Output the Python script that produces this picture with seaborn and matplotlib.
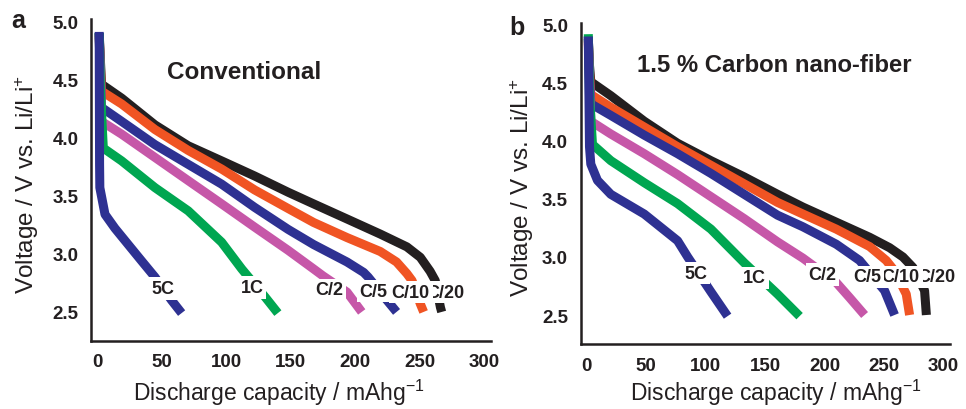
import numpy as np
import pandas as pd
import matplotlib
matplotlib.use("Agg")
import matplotlib.pyplot as plt
import seaborn as sns

sns.set_style("white")
plt.rcParams["font.family"] = ["Liberation Sans", "DejaVu Sans"]
plt.rcParams["mathtext.default"] = "regular"

rates = ["C/20", "C/10", "C/5", "C/2", "1C", "5C"]
colors = ["#231f20", "#f05423", "#2e3192", "#c657a8", "#00a651", "#2e3192"]

# ---- Panel a: Conventional ----
a_cap_C20 = [1.5, 2.5, 3.3, 18.9, 44.7, 70.5, 96.4, 122, 148, 167.7, 193.6, 219.4, 240, 250.4, 258, 262, 266, 267]
a_volt_C20 = [4.90, 4.65, 4.46, 4.34, 4.11, 3.93, 3.80, 3.67, 3.53, 3.43, 3.30, 3.17, 3.06, 2.97, 2.85, 2.77, 2.54, 2.50]
a_cap_C10 = [1.5, 2.5, 3.3, 18.9, 44.7, 70.5, 96.4, 122, 148, 167.7, 193.6, 219.4, 232, 240, 244, 250.4, 253]
a_volt_C10 = [4.88, 4.60, 4.40, 4.29, 4.07, 3.89, 3.73, 3.55, 3.39, 3.27, 3.14, 3.02, 2.93, 2.83, 2.77, 2.57, 2.50]
a_cap_C5 = [1.5, 2.5, 3.3, 18.9, 44.7, 70.5, 96.4, 122, 148, 167.7, 193.6, 206.5, 210, 224.6, 232]
a_volt_C5 = [4.90, 4.55, 4.26, 4.14, 3.94, 3.77, 3.60, 3.40, 3.21, 3.08, 2.93, 2.84, 2.80, 2.60, 2.50]
a_cap_C2 = [1.5, 2.5, 3.3, 18.9, 44.7, 70.5, 96.4, 122, 148, 167.7, 175, 193.6, 205]
a_volt_C2 = [4.86, 4.50, 4.14, 4.03, 3.83, 3.63, 3.43, 3.23, 3.03, 2.87, 2.81, 2.67, 2.50]
a_cap_1C = [1.5, 2.5, 4.7, 18.9, 44.7, 70.5, 96.4, 112, 130, 140]
a_volt_1C = [4.90, 4.40, 3.91, 3.80, 3.57, 3.37, 3.10, 2.87, 2.63, 2.49]
a_cap_5C = [1.5, 1.8, 2.0, 6.0, 13.7, 24, 34.3, 44.7, 57.6, 65.4]
a_volt_5C = [4.91, 3.77, 3.57, 3.34, 3.22, 3.08, 2.94, 2.80, 2.60, 2.49]

# ---- Panel b: 1.5 % Carbon nano-fiber ----
b_cap_C20 = [1.5, 2.5, 3.6, 20.4, 48.5, 76.5, 104.5, 132.5, 160.5, 181.8, 209.8, 237.8, 254.6, 265.8, 274.2, 284, 285.5]
b_volt_C20 = [4.88, 4.65, 4.51, 4.39, 4.17, 3.98, 3.83, 3.69, 3.54, 3.43, 3.30, 3.17, 3.08, 3.00, 2.91, 2.71, 2.50]
b_cap_C10 = [1.5, 2.5, 3.6, 20.4, 48.5, 76.5, 104.5, 132.5, 160.5, 181.8, 209.8, 237.8, 251.8, 258.8, 268.6, 271.4]
b_volt_C10 = [4.86, 4.60, 4.40, 4.29, 4.12, 3.95, 3.79, 3.63, 3.47, 3.37, 3.24, 3.09, 2.97, 2.88, 2.68, 2.50]
b_cap_C5 = [1.5, 2.5, 3.6, 20.4, 48.5, 76.5, 104.5, 132.5, 160.5, 181.8, 209.8, 229.4, 250.4, 258.8]
b_volt_C5 = [4.90, 4.55, 4.32, 4.22, 4.05, 3.89, 3.72, 3.54, 3.36, 3.26, 3.11, 2.97, 2.71, 2.50]
b_cap_C2 = [1.5, 2.5, 3.6, 20.4, 48.5, 76.5, 104.5, 132.5, 160.5, 181.8, 209.8, 221, 233.6]
b_volt_C2 = [4.84, 4.50, 4.17, 4.06, 3.89, 3.71, 3.52, 3.33, 3.13, 2.99, 2.78, 2.65, 2.50]
b_cap_1C = [1.5, 2.5, 5.0, 20.4, 48.5, 76.5, 104.5, 132.5, 160.5, 179]
b_volt_1C = [4.92, 4.40, 3.97, 3.83, 3.64, 3.46, 3.24, 2.95, 2.68, 2.49]
b_cap_5C = [1.5, 2.5, 3.6, 9.2, 20.4, 48.5, 76.5, 85, 104.5, 118.5]
b_volt_5C = [4.90, 3.95, 3.80, 3.66, 3.54, 3.37, 3.14, 3.00, 2.70, 2.49]

# label positions (capacity, voltage)
a_label_x = [270, 243, 214, 180, 120, 51]
a_label_y = [2.67, 2.67, 2.68, 2.69, 2.71, 2.70]
b_label_x = [294, 264, 236, 198, 141, 91.6]
b_label_y = [2.83, 2.83, 2.83, 2.85, 2.82, 2.86]


def make_df(caps, volts):
    frames = []
    for r, c, v in zip(rates, caps, volts):
        frames.append(pd.DataFrame({"cap": c, "volt": v, "rate": r}))
    return pd.concat(frames, ignore_index=True)


df_a = make_df([a_cap_C20, a_cap_C10, a_cap_C5, a_cap_C2, a_cap_1C, a_cap_5C],
               [a_volt_C20, a_volt_C10, a_volt_C5, a_volt_C2, a_volt_1C, a_volt_5C])
df_b = make_df([b_cap_C20, b_cap_C10, b_cap_C5, b_cap_C2, b_cap_1C, b_cap_5C],
               [b_volt_C20, b_volt_C10, b_volt_C5, b_volt_C2, b_volt_1C, b_volt_5C])

fig = plt.figure(figsize=(9.66, 4.10), dpi=100)
ax_a = fig.add_axes([0.094, 0.1659, 0.414, 0.785])
ax_b = fig.add_axes([0.601, 0.1585, 0.382, 0.784])

palette = dict(zip(rates, colors))


def draw(ax, df, lx, ly, title, tx, ty, tsize, lab_y_x):
    sns.lineplot(data=df, x="cap", y="volt", hue="rate", units="rate",
                 estimator=None, sort=False, palette=palette, hue_order=rates,
                 linewidth=6.5, ax=ax, legend=False, solid_capstyle="butt",
                 solid_joinstyle="round")
    for r, x, y in zip(rates, lx, ly):
        ax.text(x, y, r, ha="center", va="center", fontsize=13, fontweight="bold",
                color="#231f20", zorder=5,
                bbox=dict(facecolor="white", edgecolor="none", pad=2.0))
    ax.text(tx, ty, title, ha="center", va="center", fontsize=tsize,
            fontweight="bold", color="#231f20")
    ax.set_xlim(-5, 305)
    ax.set_ylim(2.25, 5.02)
    ax.set_xticks([0, 50, 100, 150, 200, 250, 300])
    ax.set_xticks(np.arange(25, 300, 50), minor=True)
    ax.set_yticks([2.5, 3.0, 3.5, 4.0, 4.5, 5.0])
    ax.set_yticks(np.arange(2.75, 5.0, 0.5), minor=True)
    ax.set_yticklabels(["2.5", "3.0", "3.5", "4.0", "4.5", "5.0"])
    for lab in ax.get_xticklabels() + ax.get_yticklabels():
        lab.set_fontweight("bold")
    ax.tick_params(axis="both", which="major", direction="out", length=6,
                   width=1.5, labelsize=13.5, color="#231f20", labelcolor="#231f20", pad=3)
    ax.tick_params(axis="both", which="minor", direction="out", length=3.5,
                   width=1.2, color="#231f20")
    sns.despine(ax=ax)
    for s in ["left", "bottom"]:
        ax.spines[s].set_linewidth(1.8)
        ax.spines[s].set_color("#231f20")
    ax.set_xlabel("Discharge capacity / mAhg$^{-1}$", fontsize=16.5, color="#231f20")
    ax.xaxis.label.set_verticalalignment("baseline")
    ax.set_ylabel("Voltage / V vs. Li/Li$^{+}$", fontsize=17.5, color="#231f20")
    ax.yaxis.set_label_coords(lab_y_x, 0.49)


draw(ax_a, df_a, a_label_x, a_label_y, "Conventional", 114, 4.57, 17.5, -0.125)
ax_a.xaxis.set_label_coords(0.47, -0.183)
draw(ax_b, df_b, b_label_x, b_label_y, "1.5 % Carbon nano-fiber", 158, 4.655, 17.2, -0.12)
ax_b.xaxis.set_label_coords(0.53, -0.175)

fig.text(0.019, 0.95, "a", fontsize=18, fontweight="bold", va="center", ha="center", color="#231f20")
fig.text(0.535, 0.932, "b", fontsize=18, fontweight="bold", va="center", ha="center", color="#231f20")

fig.savefig("out.png", dpi=100)
